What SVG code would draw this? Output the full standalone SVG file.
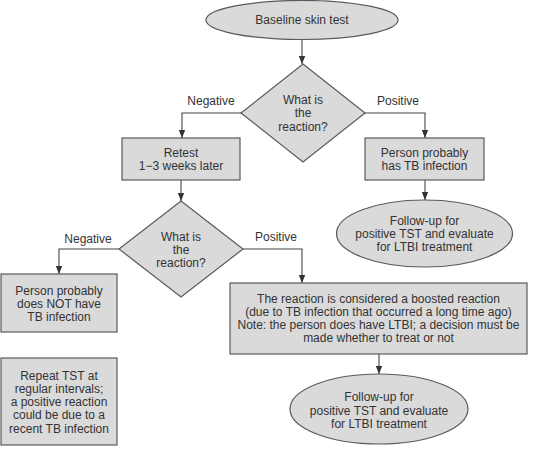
<svg xmlns="http://www.w3.org/2000/svg" width="540" height="463" viewBox="0 0 540 463">
<defs>
<marker id="ah" viewBox="0 0 8 8" refX="8" refY="4" markerWidth="8" markerHeight="8" markerUnits="userSpaceOnUse" orient="auto">
<path d="M0,0.8 L8,4 L0,7.2 Z" fill="#333"/>
</marker>
</defs>
<style>
.n{fill:#dadada;stroke:#5a5a5a;stroke-width:1.2}
.t{font-family:"Liberation Sans",Arial,sans-serif;font-size:12px;fill:#333;text-anchor:middle}
.c{fill:none;stroke:#444;stroke-width:1.1}
</style>
<rect width="540" height="463" fill="#fff"/>
<g id="connectors">
<path class="c" d="M302,40 V64" marker-end="url(#ah)"/>
<path class="c" d="M241,113 H182 V138" marker-end="url(#ah)"/>
<path class="c" d="M365,113 H425 V138" marker-end="url(#ah)"/>
<path class="c" d="M425,180 V200" marker-end="url(#ah)"/>
<path class="c" d="M181,180 V201" marker-end="url(#ah)"/>
<path class="c" d="M119,249 H59 V274" marker-end="url(#ah)"/>
<path class="c" d="M243,249 H302 V283" marker-end="url(#ah)"/>
<path class="c" d="M379,354 V374" marker-end="url(#ah)"/>
<text class="t" x="211" y="105">Negative</text>
<text class="t" x="398" y="105">Positive</text>
<text class="t" x="88" y="243">Negative</text>
<text class="t" x="276" y="241">Positive</text>
</g>
<g id="baseline">
<ellipse class="n" cx="302" cy="20" rx="96" ry="19.5"/>
<text class="t" x="302" y="24">Baseline skin test</text>
</g>
<g id="decision1">
<polygon class="n" points="303,64 365,113 303,162 241,113"/>
<text class="t" x="303" y="104">What is</text>
<text class="t" x="303" y="117">the</text>
<text class="t" x="303" y="131">reaction?</text>
</g>
<g id="retest">
<rect class="n" x="122" y="138" width="118" height="42"/>
<text class="t" x="181" y="157">Retest</text>
<text class="t" x="181" y="170">1−3 weeks later</text>
</g>
<g id="hasTB">
<rect class="n" x="365" y="138" width="119" height="42"/>
<text class="t" x="424.5" y="157">Person probably</text>
<text class="t" x="424.5" y="170">has TB infection</text>
</g>
<g id="followup1">
<ellipse class="n" cx="424.5" cy="233.5" rx="88" ry="33.5"/>
<text class="t" x="424.5" y="225">Follow-up for</text>
<text class="t" x="424.5" y="238">positive TST and evaluate</text>
<text class="t" x="424.5" y="251">for LTBI treatment</text>
</g>
<g id="decision2">
<polygon class="n" points="181,201 243,249 181,297 119,249"/>
<text class="t" x="181" y="241">What is</text>
<text class="t" x="181" y="254">the</text>
<text class="t" x="181" y="267">reaction?</text>
</g>
<g id="noTB">
<rect class="n" x="1" y="274" width="116" height="58"/>
<text class="t" x="59" y="295">Person probably</text>
<text class="t" x="59" y="308">does NOT have</text>
<text class="t" x="59" y="321">TB infection</text>
</g>
<g id="repeat">
<rect class="n" x="1" y="358" width="116" height="87"/>
<text class="t" x="59" y="380">Repeat TST at</text>
<text class="t" x="59" y="393">regular intervals;</text>
<text class="t" x="59" y="406">a positive reaction</text>
<text class="t" x="59" y="419">could be due to a</text>
<text class="t" x="59" y="433">recent TB infection</text>
</g>
<g id="boosted">
<rect class="n" x="230" y="283" width="297" height="71"/>
<text class="t" x="378.5" y="303">The reaction is considered a boosted reaction</text>
<text class="t" x="378.5" y="316">(due to TB infection that occurred a long time ago)</text>
<text class="t" x="378.5" y="329">Note: the person does have LTBI; a decision must be</text>
<text class="t" x="378.5" y="342">made whether to treat or not</text>
</g>
<g id="followup2">
<ellipse class="n" cx="379" cy="409" rx="89" ry="35"/>
<text class="t" x="379" y="401">Follow-up for</text>
<text class="t" x="379" y="415">positive TST and evaluate</text>
<text class="t" x="379" y="428">for LTBI treatment</text>
</g>
</svg>
